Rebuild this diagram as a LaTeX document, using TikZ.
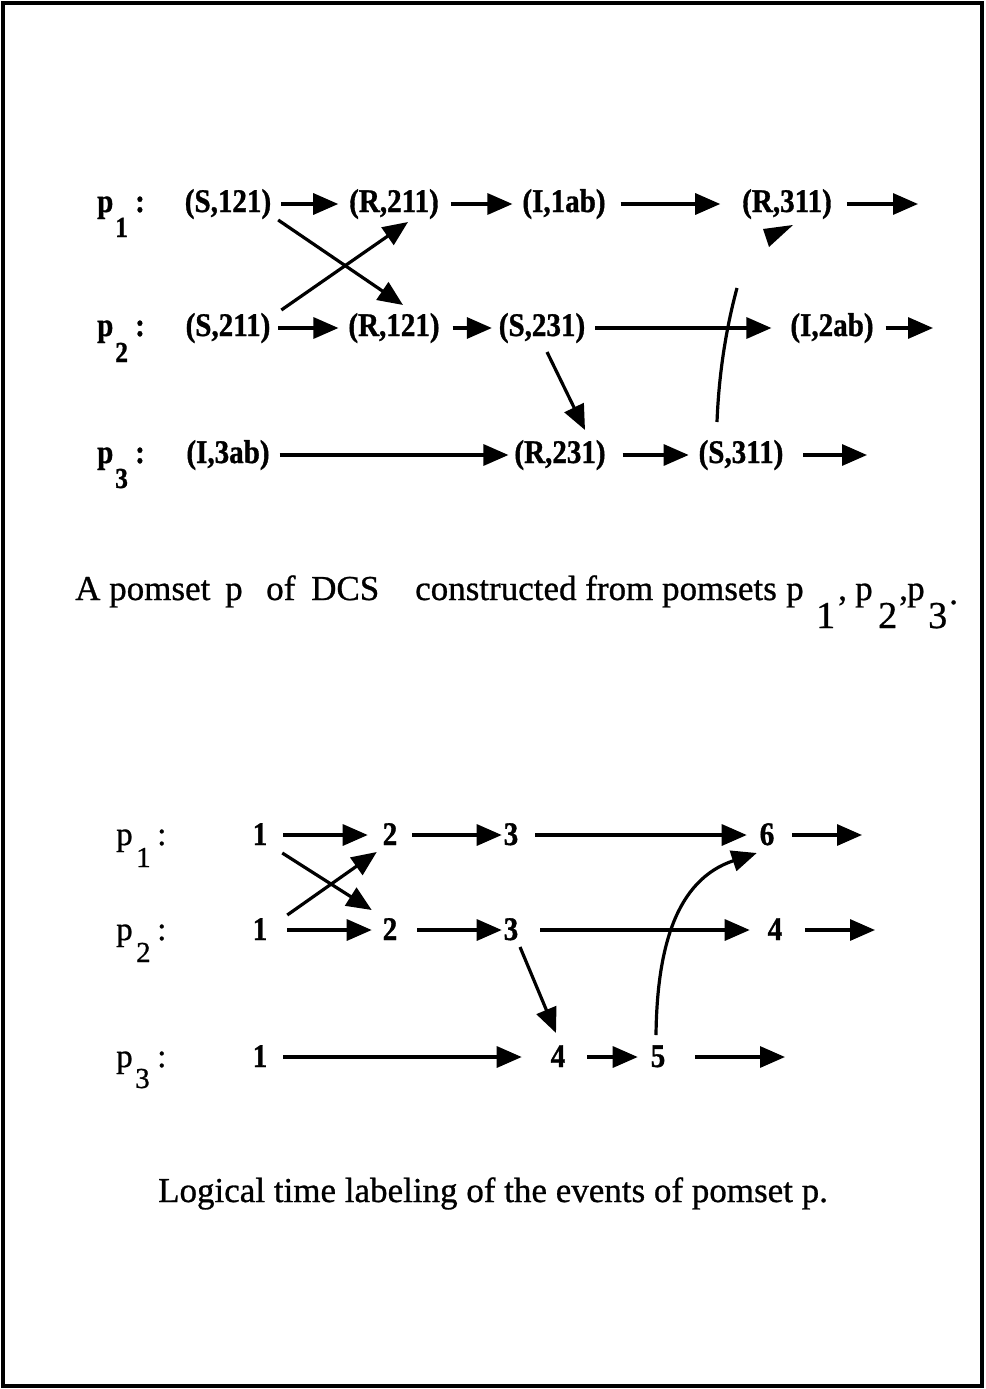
\documentclass[tikz,border=0pt]{standalone}
\usepackage{fontspec}
\setmainfont{Liberation Serif}
\newfontfamily\capfont[FakeBold=0.8]{Liberation Serif}
\newfontfamily\evfont[UprightFont={* Bold}, FakeBold=1, FakeStretch=0.88]{Liberation Serif}
\usetikzlibrary{arrows.meta}
\begin{document}
\begin{tikzpicture}[x=1pt,y=-1pt,
  evnode/.style={font=\evfont\fontsize{33}{33}\selectfont, inner sep=0pt, outer sep=0pt, anchor=base, text height=22pt, text depth=6pt},
  numnode/.style={font=\evfont\fontsize{33}{33}\selectfont, inner sep=0pt, outer sep=0pt, anchor=base, text height=20pt, text depth=0pt},
  lblnode/.style={font=\evfont\fontsize{33}{33}\selectfont, inner sep=0pt, anchor=base west},
  sublbl/.style={font=\evfont\fontsize{29}{29}\selectfont, inner sep=0pt, anchor=base west},
  lblr/.style={font=\capfont\fontsize{33}{33}\selectfont, inner sep=0pt, anchor=base west},
  sublblr/.style={font=\capfont\fontsize{29}{29}\selectfont, inner sep=0pt, anchor=base west},
  captxt/.style={font=\capfont\fontsize{35}{35}\selectfont, inner sep=0pt, anchor=base west},
  capsub/.style={font=\capfont\fontsize{38}{38}\selectfont, inner sep=0pt, anchor=base west},
  arr/.style={line width=3.2pt, -{Triangle[length=25pt,width=21pt]}},
  plainline/.style={line width=3.2pt}]
\useasboundingbox (0,0) rectangle (985,1389);
\draw[line width=4pt] (3,3) rectangle (982,1386);

% ---------- top diagram ----------
\node[lblnode] (tp1) at (97,212) {p};   \node[sublbl] (tp1s) at (115,237) {1}; \node[lblnode] (tp1c) at (135,212) {:};
\node[lblnode] (tp2) at (97,336) {p};   \node[sublbl] (tp2s) at (115,362) {2}; \node[lblnode] (tp2c) at (135,336) {:};
\node[lblnode] (tp3) at (97,463) {p};   \node[sublbl] (tp3s) at (115,488) {3}; \node[lblnode] (tp3c) at (135,463) {:};

\node[evnode] (s121) at (228,212) {(S,121)};
\node[evnode] (r211) at (394,212) {(R,211)};
\node[evnode] (i1ab) at (564,212) {(I,1ab)};
\node[evnode] (r311) at (787,212) {(R,311)};
\node[evnode] (s211) at (228,336) {(S,211)};
\node[evnode] (r121) at (394,336) {(R,121)};
\node[evnode] (s231) at (542,336) {(S,231)};
\node[evnode] (i2ab) at (832,336) {(I,2ab)};
\node[evnode] (i3ab) at (228,463) {(I,3ab)};
\node[evnode] (r231) at (560,463) {(R,231)};
\node[evnode] (s311) at (741,463) {(S,311)};

\coordinate (e1) at (918,204);
\coordinate (e2) at (933,328);
\coordinate (e3) at (867,455);
\coordinate (brk) at (737,288);

\draw[arr, shorten <=10pt, shorten >=11pt] (s121.east) -- (r211.west);
\draw[arr, shorten <=12pt, shorten >=10pt] (r211.east) -- (i1ab.west);
\draw[arr, shorten <=15pt, shorten >=22pt] (i1ab.east) -- (r311.west);
\draw[arr, shorten <=15pt] (r311.east) -- (e1);

\draw[arr, shorten <=8pt, shorten >=10pt] (s211.east) -- (r121.west);
\draw[arr, shorten <=13pt, shorten >=7pt] (r121.east) -- (s231.west);
\draw[arr, shorten <=10pt, shorten >=19pt] (s231.east) -- (i2ab.west);
\draw[arr, shorten <=12pt] (i2ab.east) -- (e2);

\draw[arr, shorten <=10pt, shorten >=6pt] (i3ab.east) -- (r231.west);
\draw[arr, shorten <=17pt, shorten >=10pt] (r231.east) -- (s311.west);
\draw[arr, shorten <=20pt] (s311.east) -- (e3);

\draw[arr] ([shift={(7,2)}]s121.south east) -- ([shift={(9,-9)}]r121.north);
\draw[arr] ([shift={(11,-4)}]s211.north east) -- ([shift={(14,4)}]r211.south);
\draw[arr] ([shift={(5,10)}]s231.south) -- ([shift={(25,-11)}]r231.north);
\draw[plainline] ([shift={(-24,-19)}]s311.north) .. controls (719,370) and (727,325) .. (brk);
\fill ([shift={(-24,11)}]r311.south) -- ([shift={(6,7)}]r311.south) -- ([shift={(-18,29)}]r311.south) -- cycle;

% caption 1
\node[captxt] (ca) at (75,600) {A pomset};
\node[captxt] (cb) at (225,600) {p};
\node[captxt] (cc) at (266,600) {of};
\node[captxt] (cd) at (311,600) {DCS};
\node[captxt] (ce) at (415,600) {constructed from pomsets};
\node[captxt] (cf) at (786,600) {p};
\node[capsub] (cf1) at (816,628) {1};
\node[captxt] (cg) at (838,600) {,};
\node[captxt] (ch) at (855,600) {p};
\node[capsub] (ch1) at (878,628) {2};
\node[captxt] (ci) at (899,600) {,};
\node[captxt] (cj) at (907,600) {p};
\node[capsub] (cj1) at (928,628) {3};
\node[captxt] (ck) at (949,604) {.};

% ---------- bottom diagram ----------
\node[lblr] (bp1) at (116,845) {p};  \node[sublblr] (bp1s) at (136,867) {1}; \node[lblr] (bp1c) at (157,845) {:};
\node[lblr] (bp2) at (116,940) {p};  \node[sublblr] (bp2s) at (136,962) {2}; \node[lblr] (bp2c) at (157,940) {:};
\node[lblr] (bp3) at (116,1067) {p}; \node[sublblr] (bp3s) at (135,1088) {3}; \node[lblr] (bp3c) at (157,1067) {:};

\node[numnode] (a1) at (260,845) {1};
\node[numnode] (a2) at (390,845) {2};
\node[numnode] (a3) at (511,845) {3};
\node[numnode] (a6) at (767,845) {6};
\node[numnode] (b1) at (260,940) {1};
\node[numnode] (b2) at (390,940) {2};
\node[numnode] (b3) at (511,940) {3};
\node[numnode] (b4) at (775,940) {4};
\node[numnode] (c1) at (260,1067) {1};
\node[numnode] (c4) at (558,1067) {4};
\node[numnode] (c5) at (658,1067) {5};

\coordinate (e4) at (862,835);
\coordinate (e5) at (875,930);
\coordinate (e6) at (785,1057);

\draw[arr, shorten <=16pt, shorten >=15pt] (a1.east) -- (a2.west);
\draw[arr, shorten <=15pt, shorten >=2pt] (a2.east) -- (a3.west);
\draw[arr, shorten <=17pt, shorten >=13pt] (a3.east) -- (a6.west);
\draw[arr, shorten <=18pt] (a6.east) -- (e4);

\draw[arr, shorten <=20pt, shorten >=11pt] (b1.east) -- (b2.west);
\draw[arr, shorten <=20pt, shorten >=2pt] (b2.east) -- (b3.west);
\draw[arr, shorten <=22pt, shorten >=18pt] (b3.east) -- (b4.west);
\draw[arr, shorten <=23pt] (b4.east) -- (e5);

\draw[arr, shorten <=16pt, shorten >=29pt] (c1.east) -- (c4.west);
\draw[arr, shorten <=22pt, shorten >=13pt] (c4.east) -- (c5.west);
\draw[arr, shorten <=30pt] (c5.east) -- (e6);

\draw[arr] ([shift={(15,8)}]a1.south east) -- ([shift={(-11,-10)}]b2.north west);
\draw[arr] ([shift={(20,-5)}]b1.north east) -- ([shift={(-6,7)}]a2.south west);
\draw[arr] ([shift={(9,7)}]b3.south) -- ([shift={(-2,-14)}]c4.north);
\draw[arr] ([shift={(-2,-12)}]c5.north) .. controls (657,950) and (675,880) .. ([shift={(-3,8)}]a6.south west);

% caption 2
\node[captxt, anchor=base] (cap2) at (493,1202) {Logical time labeling of the events of pomset p.};
\end{tikzpicture}
\end{document}
